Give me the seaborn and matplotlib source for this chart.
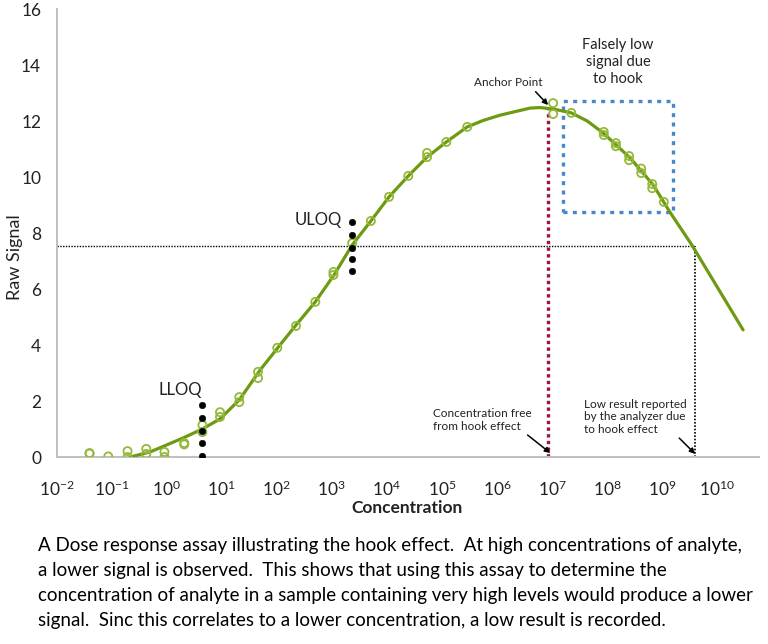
import matplotlib
matplotlib.use("Agg")
import matplotlib.pyplot as plt
import numpy as np
import seaborn as sns
from matplotlib.patches import Rectangle

# fitted dose-response curve (log10 concentration -> raw signal)
CURVE_LOG_CONC = [-0.66, -0.30, 0.30, 0.65, 0.97, 1.32, 1.70, 2.03, 2.35, 2.70, 3.04, 3.37,
                  3.71, 4.04, 4.39, 4.73, 5.08, 5.46, 5.75, 6.06, 6.60, 6.78, 7.02, 7.35,
                  7.64, 7.93, 8.42, 8.84, 9.14, 9.54, 10.47]
CURVE_SIGNAL = [0.0, 0.18, 0.68, 1.0, 1.36, 2.04, 3.11, 3.93, 4.71, 5.54, 6.5, 7.57,
                8.43, 9.29, 10.04, 10.71, 11.25, 11.79, 12.02, 12.21, 12.46, 12.48, 12.43, 12.29,
                12.0, 11.57, 10.68, 9.71, 8.75, 7.57, 4.54]

# measured replicates
POINT_LOG_CONC = [-1.40, -1.40, -1.06, -0.71, -0.71, -0.37, -0.37, -0.04, -0.04, 0.32, 0.32,
                  0.65, 0.65, 0.97, 0.97, 1.32, 1.32, 1.66, 1.66, 2.01, 2.35, 2.70, 3.03, 3.03,
                  3.37, 3.71, 4.04, 4.39, 4.73, 4.73, 5.08, 5.46, 7.02, 7.02, 7.35, 7.94, 7.94,
                  8.16, 8.16, 8.40, 8.40, 8.62, 8.62, 8.82, 8.82, 9.03]
POINT_SIGNAL = [0.14, 0.12, 0.02, 0.21, 0.0, 0.29, 0.11, 0.18, 0.0, 0.5, 0.45,
                1.14, 0.89, 1.6, 1.43, 2.14, 1.96, 3.04, 2.82, 3.9, 4.68, 5.54, 6.61, 6.5,
                7.64, 8.43, 9.29, 10.04, 10.86, 10.71, 11.25, 11.79, 12.64, 12.25, 12.29, 11.61, 11.5,
                11.21, 11.1, 10.75, 10.6, 10.3, 10.14, 9.75, 9.6, 9.11]

# limits of quantitation
LLOQ_LOG_CONC = 0.65
LLOQ_SIGNAL = [1.85, 1.4, 0.93, 0.5, 0.04]
ULOQ_LOG_CONC = 3.37
ULOQ_SIGNAL = [8.39, 7.93, 7.46, 7.07, 6.64]

# hook effect markers
ANCHOR_LOG_CONC = 6.93
ANCHOR_SIGNAL = 12.4
REPORTED_SIGNAL = 7.54
REPORTED_LOG_CONC = 9.59
HOOK_BOX_LOG_CONC = [7.20, 9.20]
HOOK_BOX_SIGNAL = [8.75, 12.71]

X_TICK_EXPONENTS = list(range(-2, 11))
Y_TICKS = list(range(0, 17, 2))

CAPTION_LINES = [
    "A Dose response assay illustrating the hook effect.  At high concentrations of analyte,",
    "a lower signal is observed.  This shows that using this assay to determine the",
    "concentration of analyte in a sample containing very high levels would produce a lower",
    "signal.  Sinc this correlates to a lower concentration, a low result is recorded.",
]

GREEN_LINE = "#6E9A12"
GREEN_POINT = "#93B93A"
RED = "#A0153E"
BLUE = "#4A86C8"
GREY = "#BFBFBF"
TEXT = "#222222"

sns.set_theme(style="white")
plt.rcParams["font.family"] = ["Lato", "DejaVu Sans"]
plt.rcParams["mathtext.fontset"] = "custom"
plt.rcParams["mathtext.rm"] = "Lato"
plt.rcParams["mathtext.it"] = "Lato:italic"
plt.rcParams["mathtext.bf"] = "Lato:bold"

fig = plt.figure(figsize=(7.68, 6.44), dpi=100)
ax = fig.add_axes([56.5 / 768, 187 / 644, 702 / 768, 448 / 644])

curve_x = 10.0 ** np.array(CURVE_LOG_CONC)
point_x = 10.0 ** np.array(POINT_LOG_CONC)

# reference lines
ax.plot([1e-2, 10 ** REPORTED_LOG_CONC], [REPORTED_SIGNAL, REPORTED_SIGNAL],
        color="black", lw=1.0, ls=(0, (1, 1)), zorder=2)
ax.plot([10 ** REPORTED_LOG_CONC] * 2, [0, REPORTED_SIGNAL],
        color="black", lw=1.2, ls=(0, (1, 1)), zorder=2)
ax.plot([10 ** ANCHOR_LOG_CONC] * 2, [0, ANCHOR_SIGNAL],
        color=RED, lw=2.4, ls=(0, (1, 1)), zorder=2)

sns.lineplot(x=curve_x, y=CURVE_SIGNAL, sort=False, color=GREEN_LINE, lw=2.3, ax=ax, zorder=3)
sns.scatterplot(x=point_x, y=POINT_SIGNAL, marker="o", s=34, facecolor="none",
                edgecolor=GREEN_POINT, linewidth=1.3, ax=ax, zorder=4)

sns.scatterplot(x=[10 ** LLOQ_LOG_CONC] * len(LLOQ_SIGNAL), y=LLOQ_SIGNAL, s=22,
                color="black", edgecolor="black", ax=ax, zorder=5)
sns.scatterplot(x=[10 ** ULOQ_LOG_CONC] * len(ULOQ_SIGNAL), y=ULOQ_SIGNAL, s=22,
                color="black", edgecolor="black", ax=ax, zorder=5)

box_x0, box_x1 = (10.0 ** np.array(HOOK_BOX_LOG_CONC))
ax.add_patch(Rectangle((box_x0, HOOK_BOX_SIGNAL[0]), box_x1 - box_x0,
                       HOOK_BOX_SIGNAL[1] - HOOK_BOX_SIGNAL[0], fill=False,
                       edgecolor=BLUE, lw=2.4, ls=(0, (1.2, 1.6)), zorder=2))

ax.set_xscale("log")
ax.set_xlim(1e-2, 10 ** 10.75)
ax.set_ylim(0, 16)
ax.set_xticks([10.0 ** e for e in X_TICK_EXPONENTS])
ax.set_xticklabels([rf"$\mathregular{{10^{{{e}}}}}$" for e in X_TICK_EXPONENTS])
ax.xaxis.set_minor_locator(matplotlib.ticker.NullLocator())
ax.set_yticks(Y_TICKS)
ax.tick_params(axis="both", which="major", length=5, width=1, color=GREY,
               labelsize=12.5, labelcolor=TEXT, direction="out")
ax.tick_params(axis="x", pad=11)
ax.tick_params(axis="y", pad=6)
for side in ["top", "right"]:
    ax.spines[side].set_visible(False)
for side in ["left", "bottom"]:
    ax.spines[side].set_color(GREY)
    ax.spines[side].set_linewidth(1.4)

ax.set_xlabel("Concentration", fontsize=12.5, fontweight="bold", color=TEXT, labelpad=1)
fig.text(15 / 768, 1 - 257 / 644, "Raw Signal", fontsize=13, color=TEXT, rotation=90,
         ha="center", va="center")

# annotations
ax.text(10 ** 2.76, 8.46, "ULOQ", fontsize=12, ha="center", va="center", color=TEXT)
ax.text(10 ** 0.24, 2.39, "LLOQ", fontsize=12, ha="center", va="center", color=TEXT)
ax.text(10 ** 8.2, 14.11, "Falsely low\nsignal due\nto hook", fontsize=10.5,
        ha="center", va="center", color=TEXT, linespacing=1.3)
arrow = dict(arrowstyle="-|>", color="black", lw=1.1, mutation_scale=8, shrinkA=0, shrinkB=0)
ax.annotate("Anchor Point", xy=(10 ** 6.93, 12.57), xytext=(10 ** 6.21, 13.36),
            fontsize=8.5, ha="center", va="center", color=TEXT,
            arrowprops=dict(arrow, relpos=(0.85, 0.0)))
ax.annotate("Concentration free\nfrom hook effect", xy=(10 ** 6.97, 0.14),
            xytext=(10 ** 4.84, 1.32), fontsize=8.5, ha="left", va="center", color=TEXT,
            linespacing=1.15, arrowprops=dict(arrow, relpos=(0.9, 0.05)))
ax.annotate("Low result reported\nby the analyzer due\nto hook effect", xy=(10 ** 9.6, 0.11),
            xytext=(10 ** 7.58, 1.43), fontsize=8.5, ha="left", va="center", color=TEXT,
            linespacing=1.15, arrowprops=dict(arrow, relpos=(0.78, 0.33)))

for i, line in enumerate(CAPTION_LINES):
    fig.text(38 / 768, 1 - (545 + 25.3 * i) / 644, line, fontsize=13.5, color="black",
             ha="left", va="center")

fig.savefig("out.png", dpi=100, facecolor="white")
